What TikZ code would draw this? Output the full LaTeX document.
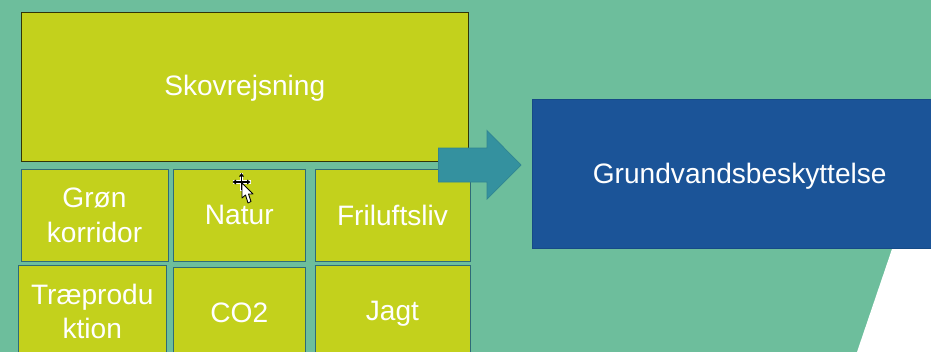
\documentclass[tikz,border=0pt]{standalone}
\usepackage{fontspec}
\setmainfont{Liberation Sans}
\usepackage{xcolor}
\definecolor{SlideGreen}{HTML}{6DBE9C}
\definecolor{TileYellow}{HTML}{C3D11C}
\definecolor{TileEdge}{HTML}{2F6B78}
\definecolor{WaterBlue}{HTML}{1B5498}
\definecolor{WaterEdge}{HTML}{164A86}
\definecolor{ArrowTeal}{HTML}{34919F}
\tikzset{
  tile/.style={draw=TileEdge,fill=TileYellow,line width=0.45pt},
  tiletext/.style={text=white,align=center,font=\fontsize{16}{19.5}\selectfont},
}

\begin{document}
\begin{tikzpicture}[x=0.02cm,y=-0.02cm]
    \useasboundingbox (0,0) rectangle (931,352);
    \clip (0,0) rectangle (931,352);

    \fill[SlideGreen] (0,0) rectangle (931,352);
    \fill[white] (892,249) -- (857,352) -- (931,352) -- (931,249) -- cycle;

    \draw[tile,draw=black!75!TileYellow] (21,12) rectangle node[tiletext,yshift=-1.1pt] (skov) {Skovrejsning} (468.5,161);
    \draw[tile] (21,169.5) rectangle node[tiletext] (korridor) {Grøn\\korridor} (168,261);
    \draw[tile] (173.5,169.5) rectangle node[tiletext] (natur) {Natur} (305,261);
    \draw[tile] (315,169.5) rectangle node[tiletext] (friluftsliv) {Friluftsliv} (470,261);
    \draw[tile] (18.5,265.5) rectangle node[tiletext] (trae) {Træprodu\\ktion} (166,357);
    \draw[tile] (173.5,267.5) rectangle node[tiletext] (co2) {CO2} (305,359);
    \draw[tile] (315,265.5) rectangle node[tiletext,yshift=-1.7pt] (jagt) {Jagt} (470,357);

    \draw[draw=WaterEdge,fill=WaterBlue,line width=0.45pt] (532.5,99.5) rectangle node[tiletext,yshift=-1.1pt] (vand) {Grundvandsbeskyttelse} (947,248.5);

    % block arrow
    \draw[draw=ArrowTeal!92!black,fill=ArrowTeal,line width=0.4pt,line join=miter]
        (438.5,148) -- (487,148) -- (487,130.5) -- (521,165) -- (487,199) -- (487,182) -- (438.5,182) -- cycle;

    % cursor
    \draw[white,line width=2.2pt] (232.5,182) -- (250.5,182) (241.5,173) -- (241.5,191);
    \draw[black,line width=0.6pt] (234,182) -- (249,182) (241.5,174.5) -- (241.5,189.5);
    \fill[black] (232.5,182) -- (236,179.5) -- (236,184.5) -- cycle
                 (250.5,182) -- (247,179.5) -- (247,184.5) -- cycle
                 (241.5,173) -- (239,176.5) -- (244,176.5) -- cycle;
    \draw[black,fill=white,line width=0.5pt,line join=round]
        (242,183) -- (242,198) -- (245.5,195) -- (248,203) -- (251,201.5) -- (248.5,194) -- (253,194) -- cycle;
\end{tikzpicture}
\end{document}
